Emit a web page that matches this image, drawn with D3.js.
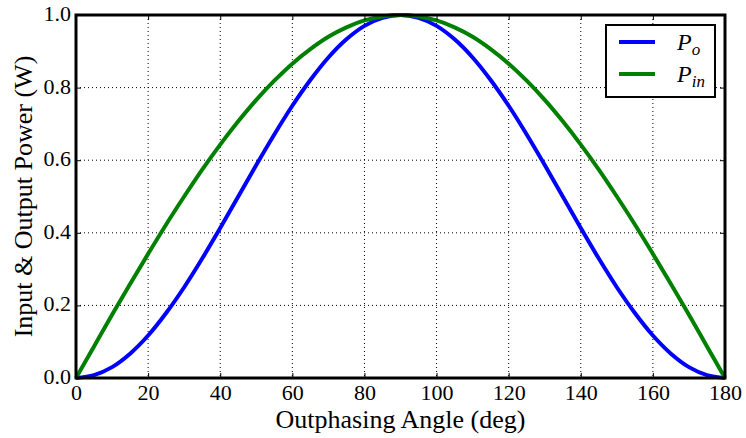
<!DOCTYPE html>
<html>
<head>
<meta charset="utf-8">
<script src="https://cdn.jsdelivr.net/npm/d3@7"></script>
<style>
  body { margin: 0; background: #fff; }
  svg { display: block; font-family: "Liberation Serif", "DejaVu Serif", serif; }
</style>
</head>
<body>
<div id="chart"></div>
<script>
// angles in degrees, read at 5 degree steps
const angles = [0, 5, 10, 15, 20, 25, 30, 35, 40, 45, 50, 55, 60, 65, 70, 75, 80, 85, 90,
                95, 100, 105, 110, 115, 120, 125, 130, 135, 140, 145, 150, 155, 160, 165, 170, 175, 180];
// output power P_o (W)
const outputPower = [0, 0.008, 0.030, 0.067, 0.117, 0.179, 0.25, 0.329, 0.413, 0.5, 0.587, 0.671, 0.75, 0.821, 0.883, 0.933, 0.970, 0.992, 1.0,
                     0.992, 0.970, 0.933, 0.883, 0.821, 0.75, 0.671, 0.587, 0.5, 0.413, 0.329, 0.25, 0.179, 0.117, 0.067, 0.030, 0.008, 0];
// input power P_in (W)
const inputPower = [0, 0.087, 0.174, 0.259, 0.342, 0.423, 0.5, 0.574, 0.643, 0.707, 0.766, 0.819, 0.866, 0.906, 0.940, 0.966, 0.985, 0.996, 1.0,
                    0.996, 0.985, 0.966, 0.940, 0.906, 0.866, 0.819, 0.766, 0.707, 0.643, 0.574, 0.5, 0.423, 0.342, 0.259, 0.174, 0.087, 0];
const xTicks = [0, 20, 40, 60, 80, 100, 120, 140, 160, 180];
const yTicks = [0.0, 0.2, 0.4, 0.6, 0.8, 1.0];

const series = [
    { name: "o", values: outputPower, color: "#0000ff" },
    { name: "in", values: inputPower, color: "#008000" }
];

const W = 746, H = 438;
const margin = { top: 15, right: 21, bottom: 60, left: 76 };
const width = W - margin.left - margin.right;
const height = H - margin.top - margin.bottom;
const serif = "'Liberation Serif', 'DejaVu Serif', serif";

const svg = d3.select("#chart").append("svg")
    .attr("width", W)
    .attr("height", H);

const g = svg.append("g")
    .attr("transform", `translate(${margin.left},${margin.top})`);

const x = d3.scaleLinear().domain([0, 180]).range([0, width]);
const y = d3.scaleLinear().domain([0, 1]).range([height, 0]);

// dotted grid
g.append("g").selectAll("line").data(xTicks.slice(1, -1)).join("line")
    .attr("x1", d => x(d)).attr("x2", d => x(d))
    .attr("y1", 0).attr("y2", height)
    .style("stroke", "#000").style("stroke-width", 1)
    .style("stroke-dasharray", "1,3");
g.append("g").selectAll("line").data(yTicks.slice(1, -1)).join("line")
    .attr("y1", d => y(d)).attr("y2", d => y(d))
    .attr("x1", 0).attr("x2", width)
    .style("stroke", "#000").style("stroke-width", 1)
    .style("stroke-dasharray", "1,3");

// curves
const line = d3.line()
    .x((d, i) => x(angles[i]))
    .y(d => y(d))
    .curve(d3.curveCatmullRom);

g.selectAll("path.series").data(series).join("path")
    .attr("class", "series")
    .attr("d", d => line(d.values))
    .style("fill", "none")
    .style("stroke", d => d.color)
    .style("stroke-width", 4);

// axes with inward ticks
const xAxis = g.append("g")
    .attr("transform", `translate(0,${height})`)
    .call(d3.axisBottom(x).tickValues(xTicks).tickSize(-5).tickPadding(6).tickFormat(d3.format("d")));
const xAxisTop = g.append("g")
    .call(d3.axisTop(x).tickValues(xTicks).tickSize(-5).tickFormat(""));
const yAxis = g.append("g")
    .call(d3.axisLeft(y).tickValues(yTicks).tickSize(-5).tickPadding(5).tickFormat(d3.format(".1f")));
const yAxisRight = g.append("g")
    .attr("transform", `translate(${width},0)`)
    .call(d3.axisRight(y).tickValues(yTicks).tickSize(-5).tickFormat(""));

[xAxis, xAxisTop, yAxis, yAxisRight].forEach(a => {
    a.attr("font-family", null).attr("font-size", null);
    a.select(".domain").remove();
    a.selectAll(".tick line").style("stroke", "#000").style("stroke-width", 1);
    a.selectAll("text").style("font-size", "22px").style("fill", "#000")
        .style("font-family", serif);
});
xAxis.selectAll("text").attr("dy", "0.71em");
yAxis.selectAll("text").attr("dy", "0.25em");

// frame
g.append("rect")
    .attr("width", width).attr("height", height)
    .style("fill", "none").style("stroke", "#000").style("stroke-width", 3);

// axis titles
svg.append("text")
    .attr("x", margin.left + width / 2).attr("y", 428)
    .attr("text-anchor", "middle")
    .style("font-family", serif)
    .style("font-size", "26px")
    .text("Outphasing Angle (deg)");

svg.append("text")
    .attr("transform", `translate(32,${margin.top + height / 2}) rotate(-90)`)
    .attr("text-anchor", "middle")
    .style("font-family", serif)
    .style("font-size", "26px")
    .text("Input & Output Power (W)");

// legend
const legend = g.append("g").attr("transform", `translate(${606 - margin.left},${25 - margin.top})`);
legend.append("rect")
    .attr("width", 109).attr("height", 72)
    .style("fill", "#fff").style("stroke", "#000").style("stroke-width", 2);
series.forEach((s, i) => {
    const ly = 17 + i * 32;
    legend.append("line")
        .attr("x1", 13).attr("x2", 49).attr("y1", ly).attr("y2", ly)
        .style("stroke", s.color).style("stroke-width", 4);
    const t = legend.append("text")
        .attr("x", 71).attr("y", ly + 8)
        .style("font-family", serif)
        .style("font-size", "24px").style("font-style", "italic");
    t.append("tspan").text("P");
    t.append("tspan").attr("dy", 5).style("font-size", "17px").text(s.name);
});
</script>
</body>
</html>
